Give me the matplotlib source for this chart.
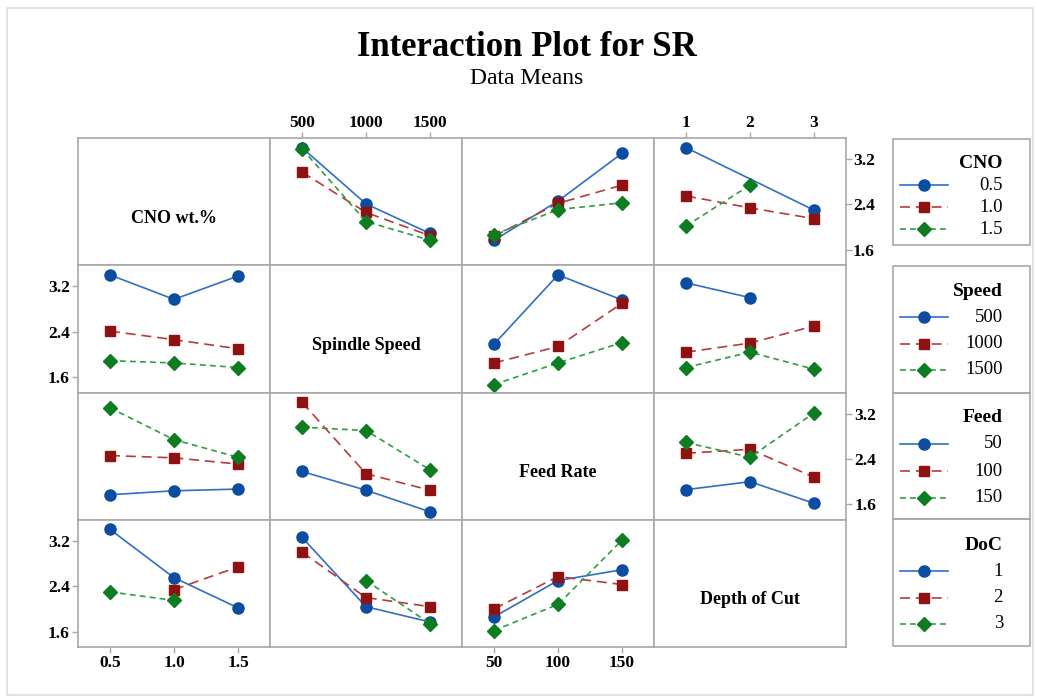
import matplotlib
matplotlib.use("Agg")
import matplotlib.pyplot as plt
import numpy as np
from matplotlib.patches import Rectangle

plt.rcParams["font.family"] = ["Liberation Serif", "DejaVu Serif"]

nan = np.nan

factors = ["CNO", "Speed", "Feed", "DoC"]
factor_titles = ["CNO wt.%", "Spindle Speed", "Feed Rate", "Depth of Cut"]
levels = [["0.5", "1.0", "1.5"],
          ["500", "1000", "1500"],
          ["50", "100", "150"],
          ["1", "2", "3"]]
y_ticks = [1.6, 2.4, 3.2]

# mean SR for each pair of factors (rows: levels of first factor, cols: levels of second)
cno_speed = [[3.40, 2.41, 1.89], [2.97, 2.26, 1.85], [3.38, 2.10, 1.77]]
cno_feed = [[1.77, 2.46, 3.30], [1.84, 2.42, 2.74], [1.87, 2.31, 2.43]]
cno_doc = [[3.40, nan, 2.30], [2.55, 2.34, 2.15], [2.02, 2.74, nan]]
speed_feed = [[2.18, 3.40, 2.96], [1.85, 2.14, 2.90], [1.47, 1.85, 2.21]]
speed_doc = [[3.26, 3.00, nan], [2.04, 2.20, 2.50], [1.77, 2.04, 1.74]]
feed_doc = [[1.86, 2.00, 1.62], [2.50, 2.57, 2.08], [2.69, 2.43, 3.21]]

pair_means = {
    (0, 1): cno_speed, (0, 2): cno_feed, (0, 3): cno_doc,
    (1, 2): speed_feed, (1, 3): speed_doc, (2, 3): feed_doc,
}

styles = [
    dict(color="#2f6fc6", ls="-", marker="o", ms=8, mfc="#0c4da2", mec="#0c4da2"),
    dict(color="#b53c3c", ls=(0, (6, 3.5)), marker="s", ms=7.5, mfc="#8e1212", mec="#8e1212"),
    dict(color="#2f9e40", ls=(0, (3.5, 2.5)), marker="D", ms=7, mfc="#0e7d22", mec="#0e7d22"),
]

grid_col = "#a8a8a8"
W, H = 1038, 700

fig, axes = plt.subplots(4, 4, figsize=(W / 100, H / 100), dpi=100,
                         gridspec_kw=dict(hspace=0, wspace=0))
fig.subplots_adjust(left=78 / W, right=846 / W, top=1 - 138 / H, bottom=1 - 647 / H)


def cell_means(trace_f, x_f):
    if trace_f < x_f:
        return np.array(pair_means[(trace_f, x_f)], dtype=float)
    return np.array(pair_means[(x_f, trace_f)], dtype=float).T


for i in range(4):
    for j in range(4):
        ax = axes[i, j]
        ax.set_xlim(-0.5, 2.5)
        ax.set_ylim(1.33, 3.57)
        for s in ax.spines.values():
            s.set_color(grid_col)
            s.set_linewidth(1.2)
        ax.tick_params(which="both", bottom=False, top=False, left=False, right=False,
                       labelbottom=False, labeltop=False, labelleft=False, labelright=False,
                       color=grid_col, length=4, width=1, labelsize=12.5, pad=2)
        ax.set_xticks(range(3))
        ax.set_xticklabels(levels[j], fontweight="bold")
        ax.set_yticks(y_ticks)
        ax.set_yticklabels([f"{v:.1f}" for v in y_ticks], fontweight="bold")

        if i == j:
            ax.text(0.5, 0.37, factor_titles[i], transform=ax.transAxes,
                    ha="center", va="center", fontsize=13, fontweight="bold")
            continue

        means = cell_means(i, j)
        x = np.arange(3)
        for k in range(3):
            ok = np.isfinite(means[k])
            ax.plot(x[ok], means[k][ok], lw=1.2, **styles[k], zorder=3 + k)

# alternating axis scales around the matrix
for j in (1, 3):
    axes[0, j].tick_params(top=True, labeltop=True, pad=1)
for j in (0, 2):
    axes[3, j].tick_params(bottom=True, labelbottom=True)
for i in (1, 3):
    axes[i, 0].tick_params(left=True, labelleft=True)
for i in (0, 2):
    axes[i, 3].tick_params(right=True, labelright=True)

fig.text(527 / W, 1 - 47 / H, "Interaction Plot for SR", ha="center", va="center",
         fontsize=25, fontweight="bold")
fig.text(527 / W, 1 - 79 / H, "Data Means", ha="center", va="center", fontsize=17)

# overlay in pixel coordinates for the frame and the legend boxes
lay = fig.add_axes([0, 0, 1, 1], zorder=-1)
lay.set_xlim(0, W)
lay.set_ylim(H, 0)
lay.axis("off")
lay.add_patch(Rectangle((7, 8), W - 12, H - 13, fill=False, ec="#e2e2e2", lw=1.5))

box_spans = [(139, 245), (266, 393), (393, 519), (519, 646)]
title_ys = [163, 291, 418, 545]
entry_ys = [[185, 207, 229], [317, 344, 370], [444, 471, 498], [571, 598, 624]]

leg = fig.add_axes([0, 0, 1, 1], zorder=5)
leg.set_xlim(0, W)
leg.set_ylim(H, 0)
leg.axis("off")
leg.patch.set_alpha(0)
for f in range(4):
    y0, y1 = box_spans[f]
    leg.add_patch(Rectangle((893, y0), 137, y1 - y0, fill=False, ec=grid_col, lw=1.2))
    leg.text(1003, title_ys[f], factors[f], ha="right", va="center",
             fontsize=14, fontweight="bold")
    for k in range(3):
        yy = entry_ys[f][k]
        leg.plot([900, 924, 948], [yy, yy, yy], lw=1.2, markevery=[1], **styles[k])
        leg.text(1003, yy, levels[f][k], ha="right", va="center", fontsize=13.5)

fig.savefig("out.png", dpi=100)
